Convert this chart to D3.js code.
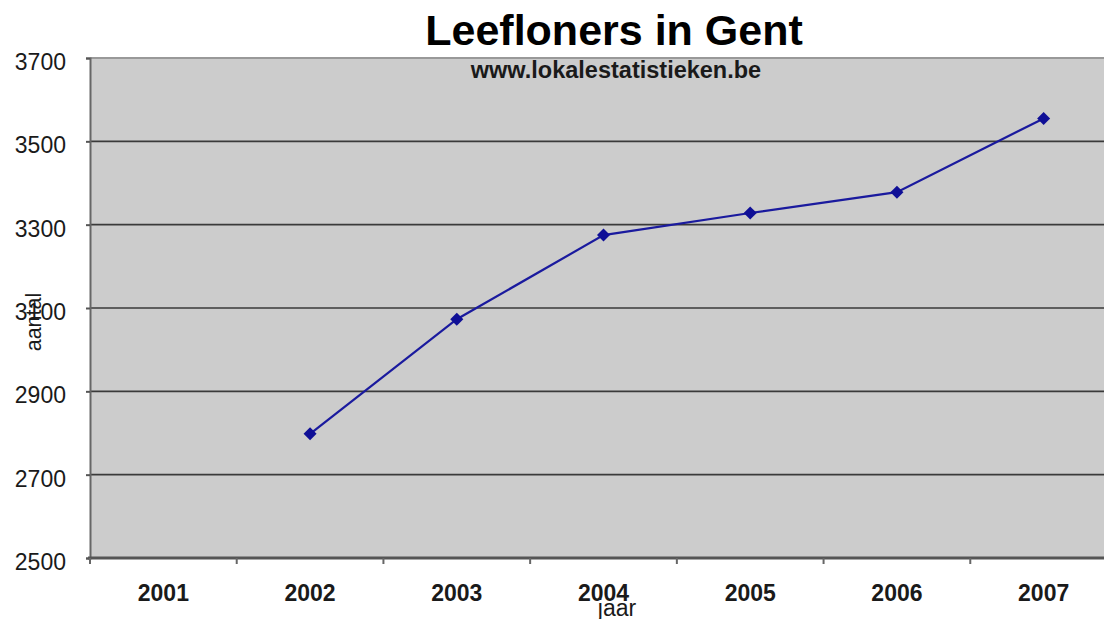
<!DOCTYPE html>
<html><head><meta charset="utf-8">
<script src="https://cdn.jsdelivr.net/npm/d3@7"></script>
<style>body{margin:0;background:#fff;overflow:hidden}svg{display:block}</style>
</head><body>
<script>
const years = ["2001","2002","2003","2004","2005","2006","2007"];
const values = [null, 2798, 3073, 3275, 3328, 3378, 3555];
const yTicks = [2500, 2700, 2900, 3100, 3300, 3500, 3700];
const title = "Leefloners in Gent";
const subtitle = "www.lokalestatistieken.be";
const xTitle = "jaar", yTitle = "aantal";

const W = 1104, H = 619;
const L = 90, R = 1117, T = 58, B = 558;
const FONT = "Liberation Sans, Arial, sans-serif";
const svg = d3.select("body").append("svg").attr("width", W).attr("height", H);

const x = d3.scaleBand().domain(years).range([L, R]).padding(0);
const y = d3.scaleLinear().domain([2500, 3700]).range([B, T]);

svg.append("rect").attr("x", L).attr("y", T).attr("width", R - L).attr("height", B - T).attr("fill", "#cccccc");
svg.append("line").attr("x1", L).attr("x2", W).attr("y1", T).attr("y2", T).attr("stroke", "#999").attr("stroke-width", 2);

// gridlines
svg.append("g").selectAll("line").data(yTicks.filter(d => d > 2500 && d < 3700)).join("line")
  .attr("x1", L).attr("x2", W).attr("y1", d => y(d)).attr("y2", d => y(d))
  .attr("stroke", "#3a3a3a").attr("stroke-width", 1.6);

// y axis
const ya = svg.append("g").attr("transform", `translate(${L},0)`)
  .call(d3.axisLeft(y).tickValues(yTicks).tickSize(4).tickPadding(20).tickFormat(d3.format("d")));
ya.select(".domain").attr("stroke", "#666").attr("stroke-width", 2);
ya.selectAll(".tick line").attr("stroke", "#555").attr("stroke-width", 2);
ya.selectAll("text").attr("font-family", FONT).attr("font-size", 23).attr("fill", "#1a1a1a").attr("dy", "0.5em");

// x axis
const xa = svg.append("g").attr("transform", `translate(0,${B})`)
  .call(d3.axisBottom(x).tickSize(0).tickPadding(27));
xa.select(".domain").remove();
svg.append("line").attr("x1", L - 2).attr("x2", W).attr("y1", B).attr("y2", B).attr("stroke", "#555").attr("stroke-width", 3);
svg.append("g").selectAll("line").data(years).join("line")
  .attr("x1", d => x(d)).attr("x2", d => x(d)).attr("y1", B).attr("y2", B + 6)
  .attr("stroke", "#666").attr("stroke-width", 2);
xa.selectAll("text").attr("font-family", FONT).attr("font-size", 23).attr("font-weight", "bold").attr("fill", "#1a1a1a");

// line
const pts = years.map((d, i) => ({k: d, v: values[i]})).filter(p => p.v != null);
const line = d3.line().x(p => x(p.k) + x.bandwidth() / 2).y(p => y(p.v));
svg.append("path").datum(pts).attr("d", line).attr("fill", "none").attr("stroke", "#1a1a9e").attr("stroke-width", 2.2);
svg.append("g").selectAll("path").data(pts).join("path")
  .attr("d", d3.symbol(d3.symbolSquare, 85))
  .attr("transform", p => `translate(${x(p.k) + x.bandwidth() / 2},${y(p.v)}) rotate(45)`)
  .attr("fill", "#0f0f96");

// titles
svg.append("text").attr("x", 614).attr("y", 45).attr("text-anchor", "middle")
  .attr("font-family", FONT).attr("font-weight", "bold").attr("font-size", 43).attr("fill", "#000").text(title);
svg.append("text").attr("x", 616).attr("y", 78).attr("text-anchor", "middle")
  .attr("font-family", FONT).attr("font-weight", "bold").attr("font-size", 23.5).attr("fill", "#1a1a1a").text(subtitle);
svg.append("text").attr("x", 617).attr("y", 616).attr("text-anchor", "middle")
  .attr("font-family", FONT).attr("font-size", 23).attr("fill", "#1a1a1a").text(xTitle);
svg.append("text").attr("transform", "translate(41,322) rotate(-90)").attr("text-anchor", "middle")
  .attr("font-family", FONT).attr("font-size", 21.5).attr("fill", "#1a1a1a").text(yTitle);
</script>
</body></html>
